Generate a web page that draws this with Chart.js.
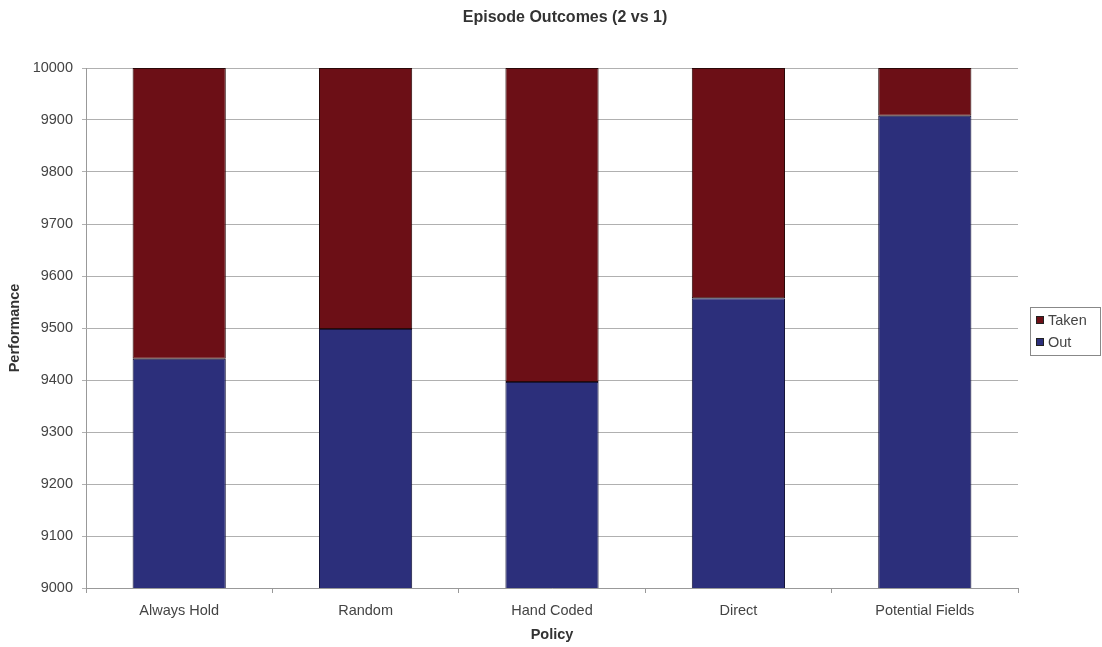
<!DOCTYPE html>
<html>
<head>
<meta charset="utf-8">
<script src="https://cdn.jsdelivr.net/npm/chart.js@4/dist/chart.umd.min.js"></script>
<style>
html,body{margin:0;padding:0;background:#fff;}
#wrap{width:1102px;height:647px;position:relative;}
</style>
</head>
<body>
<div id="wrap"><canvas id="c" width="1102" height="647"></canvas></div>
<script>
const categories = ["Always Hold", "Random", "Hand Coded", "Direct", "Potential Fields"];
const outValues = [9441, 9498, 9396, 9557, 9908];
const takenValues = [559, 502, 604, 443, 92];
const yTicks = {min: 9000, max: 10000, step: 100};
const chartTitle = 'Episode Outcomes (2 vs 1)';

const FONT = 'Liberation Sans, Arial, sans-serif';

// Draws the chart title (centred on the whole picture) and a boxed legend at the right.
const titleAndLegend = {
  id: 'titleAndLegend',
  afterDraw(chart) {
    const ctx = chart.ctx;
    ctx.save();
    ctx.fillStyle = '#333';
    ctx.font = 'bold 16px ' + FONT;
    ctx.textAlign = 'center';
    ctx.textBaseline = 'middle';
    ctx.fillText(chartTitle, 565, 18);

    // legend
    const ds = chart.data.datasets.slice().reverse();
    const boxL = 1030, boxT = 307, rowH = 22;
    const boxH = ds.length * rowH + 4;
    ctx.strokeStyle = '#888';
    ctx.lineWidth = 1;
    ctx.strokeRect(boxL + 0.5, boxT + 0.5, 70, boxH);
    ctx.font = '14.5px ' + FONT;
    ctx.textAlign = 'left';
    ds.forEach((d, i) => {
      const cy = boxT + 13 + i * rowH;
      ctx.fillStyle = d.backgroundColor;
      ctx.fillRect(boxL + 6, cy - 4, 8, 8);
      ctx.strokeStyle = '#222';
      ctx.strokeRect(boxL + 6.5, cy - 3.5, 7, 7);
      ctx.fillStyle = '#444';
      ctx.fillText(d.label, boxL + 18, cy + 1);
    });
    ctx.restore();
  }
};

new Chart(document.getElementById('c'), {
  type: 'bar',
  data: {
    labels: categories,
    datasets: [
      {label: 'Out', data: outValues, backgroundColor: '#2c2f7b', borderColor: '#15153a', borderWidth: 1, borderSkipped: false},
      {label: 'Taken', data: takenValues, backgroundColor: '#6c0f16', borderColor: '#2a0808', borderWidth: 1, borderSkipped: false}
    ]
  },
  options: {
    responsive: false,
    animation: false,
    devicePixelRatio: 1,
    layout: {padding: {left: 6, right: 84, top: 68, bottom: 3}},
    datasets: {bar: {barPercentage: 0.5, categoryPercentage: 1.0}},
    plugins: {
      title: {display: false},
      legend: {display: false},
      tooltip: {enabled: false}
    },
    scales: {
      x: {
        stacked: true,
        grid: {display: true, drawOnChartArea: false, drawTicks: true, tickLength: 5, offset: true, color: '#999'},
        border: {color: '#999'},
        ticks: {color: '#444', font: {family: FONT, size: 14.5}, padding: 9},
        title: {display: true, text: 'Policy', color: '#333', font: {family: FONT, size: 14.5, weight: 'bold'}, padding: {top: 4, bottom: 0}},
        afterFit(s) { s.height = 56; }
      },
      y: {
        stacked: true,
        min: yTicks.min, max: yTicks.max,
        grid: {color: '#b0b0b0', tickLength: 4},
        border: {color: '#999'},
        ticks: {stepSize: yTicks.step, color: '#444', font: {family: FONT, size: 14.5}, padding: 9, callback: v => String(v)},
        title: {display: true, text: 'Performance', color: '#333', font: {family: FONT, size: 14.5, weight: 'bold'}, padding: {top: 0, bottom: 0}},
        afterFit(s) { s.width = 80; }
      }
    }
  },
  plugins: [titleAndLegend]
});
</script>
</body>
</html>
